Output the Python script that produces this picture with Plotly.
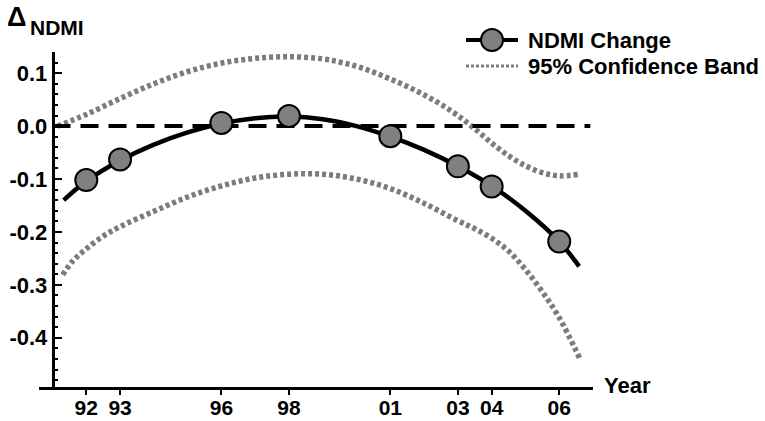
import plotly.graph_objects as go

# ---- data ----
marker_years = [1992, 1993, 1996, 1998, 2001, 2003, 2004, 2006]
marker_vals = [-0.102, -0.063, 0.006, 0.019, -0.019, -0.076, -0.114, -0.218]

fit_years = [1991.33, 1992, 1993, 1994, 1995, 1996, 1997, 1998, 1999, 2000,
             2001, 2002, 2003, 2004, 2005, 2006, 2006.59]
fit_vals = [-0.140, -0.104, -0.065, -0.035, -0.012, 0.005, 0.015, 0.018, 0.013, 0.000,
            -0.020, -0.045, -0.076, -0.113, -0.160, -0.218, -0.265]

upper_years = [1991.15, 1992.0, 1993.0, 1994.0, 1995.0, 1996.0, 1997.0, 1998.0, 1999.0,
               1999.5, 2000.0, 2000.5, 2001.0, 2001.5, 2002.0, 2002.5, 2003.0, 2003.5,
               2004.0, 2004.5, 2005.0, 2005.5, 2006.0, 2006.6]
upper_vals = [0.000, 0.022, 0.052, 0.080, 0.103, 0.119, 0.128, 0.131, 0.127,
              0.121, 0.113, 0.102, 0.089, 0.075, 0.059, 0.041, 0.020, -0.005,
              -0.032, -0.056, -0.075, -0.088, -0.094, -0.091]

lower_years = [1991.3, 1991.6, 1992.0, 1992.5, 1993.0, 1994.0, 1995.0, 1996.0, 1997.0,
               1998.0, 1999.0, 2000.0, 2001.0, 2002.0, 2003.0, 2003.5, 2004.0, 2004.5,
               2005.0, 2005.5, 2006.0, 2006.6]
lower_vals = [-0.281, -0.255, -0.232, -0.208, -0.190, -0.161, -0.134, -0.113, -0.098,
              -0.091, -0.091, -0.100, -0.118, -0.146, -0.179, -0.194, -0.212, -0.236,
              -0.271, -0.313, -0.362, -0.438]

zero_years = [1991.0, 2006.92]
zero_vals = [0.0, 0.0]

x_tickvals = [1992, 1993, 1996, 1998, 2001, 2003, 2004, 2006]
x_ticktext = ["92", "93", "96", "98", "01", "03", "04", "06"]
y_tickvals = [0.1, 0.0, -0.1, -0.2, -0.3, -0.4]
y_ticktext = ["0.1", "0.0", "-0.1", "-0.2", "-0.3", "-0.4"]

legend_labels = ["NDMI Change", "95% Confidence Band"]

X_RANGE = [1990.6, 2007.0]
Y_RANGE = [-0.493, 0.14]
Y_AXIS_AT = 1991.0

W, H = 765, 421
ML, MR, MT, MB = 39, 172, 52, 34
PW, PH = W - ML - MR, H - MT - MB

FONT = "Arial, 'Liberation Sans', sans-serif"
BAND_COLOR = "#7c7c7c"
MARK_COLOR = "#808080"
BAND_DASH = "4px,3px"


def px_x(p):
    return (p - ML) / PW


def px_y(p):
    return (H - MB - p) / PH


fig = go.Figure()

fig.add_trace(go.Scatter(x=upper_years, y=upper_vals, mode="lines", showlegend=False,
                         line=dict(color=BAND_COLOR, width=5.5, dash=BAND_DASH, shape="spline")))
fig.add_trace(go.Scatter(x=lower_years, y=lower_vals, mode="lines", showlegend=False,
                         line=dict(color=BAND_COLOR, width=5.5, dash=BAND_DASH, shape="spline")))
fig.add_trace(go.Scatter(x=zero_years, y=zero_vals, mode="lines", showlegend=False,
                         line=dict(color="black", width=4, dash="18px,10px")))
fig.add_trace(go.Scatter(x=fit_years, y=fit_vals, mode="lines", showlegend=False,
                         line=dict(color="black", width=4.5, shape="spline")))
fig.add_trace(go.Scatter(x=marker_years, y=marker_vals, mode="markers", showlegend=False,
                         marker=dict(size=22, color=MARK_COLOR,
                                     line=dict(color="black", width=2))))

pos = (Y_AXIS_AT - X_RANGE[0]) / (X_RANGE[1] - X_RANGE[0])

fig.update_layout(
    width=W, height=H,
    margin=dict(l=ML, r=MR, t=MT, b=MB, pad=0, autoexpand=False),
    paper_bgcolor="white", plot_bgcolor="white",
    font=dict(family=FONT, size=20, color="black", weight="bold"),
    showlegend=False,
    xaxis=dict(range=X_RANGE, showline=True, linecolor="black", linewidth=2.5,
               ticks="outside", ticklen=5, tickwidth=2, tickcolor="black",
               tickmode="array", tickvals=x_tickvals, ticktext=x_ticktext,
               tickfont=dict(family=FONT, size=21, color="black", weight="bold"),
               ticklabelstandoff=-5, automargin=False,
               showgrid=False, zeroline=False),
    yaxis=dict(range=Y_RANGE, anchor="free", position=pos,
               showline=True, linecolor="black", linewidth=2.5,
               ticks="inside", ticklen=8, tickwidth=2, tickcolor="black",
               tickmode="array", tickvals=y_tickvals, ticktext=y_ticktext,
               tickfont=dict(family=FONT, size=22, color="black", weight="bold"),
               automargin=False, showgrid=False, zeroline=False,
               minor=dict(tickmode="linear", tick0=0, dtick=0.02, ticks="inside",
                          ticklen=4, tickwidth=1.5, tickcolor="black", showgrid=False)),
)

# ---- manual legend ----
row1, row2 = 40, 66
sx0, sx1, sxc = 466, 518, 492
fig.add_shape(type="line", xref="paper", yref="paper",
              x0=px_x(sx0), x1=px_x(sx1), y0=px_y(row1), y1=px_y(row1),
              line=dict(color="black", width=4))
fig.add_shape(type="circle", xref="paper", yref="paper",
              xsizemode="pixel", ysizemode="pixel",
              xanchor=px_x(sxc), yanchor=px_y(row1), x0=-11, x1=11, y0=-11, y1=11,
              fillcolor=MARK_COLOR, line=dict(color="black", width=2))
fig.add_shape(type="line", xref="paper", yref="paper",
              x0=px_x(sx0), x1=px_x(sx1), y0=px_y(row2), y1=px_y(row2),
              line=dict(color=BAND_COLOR, width=3, dash="3px,2px"))
for lbl, row in zip(legend_labels, [row1, row2]):
    fig.add_annotation(text=lbl, xref="paper", yref="paper", x=px_x(526), y=px_y(row),
                       xanchor="left", yanchor="middle", showarrow=False,
                       font=dict(family=FONT, size=22, color="black", weight="bold"))

# ---- axis titles ----
fig.add_annotation(text="Δ", xref="paper", yref="paper", x=px_x(16), y=px_y(17),
                   xanchor="center", yanchor="middle", showarrow=False,
                   font=dict(family=FONT, size=27, color="black", weight="bold"))
fig.add_annotation(text="NDMI", xref="paper", yref="paper", x=px_x(28), y=px_y(27),
                   xanchor="left", yanchor="middle", showarrow=False,
                   font=dict(family=FONT, size=21, color="black", weight="bold"))
fig.add_annotation(text="Year", xref="paper", yref="paper", x=px_x(602), y=px_y(385),
                   xanchor="left", yanchor="middle", showarrow=False,
                   font=dict(family=FONT, size=22, color="black", weight="bold"))

fig.write_html("out.html")
